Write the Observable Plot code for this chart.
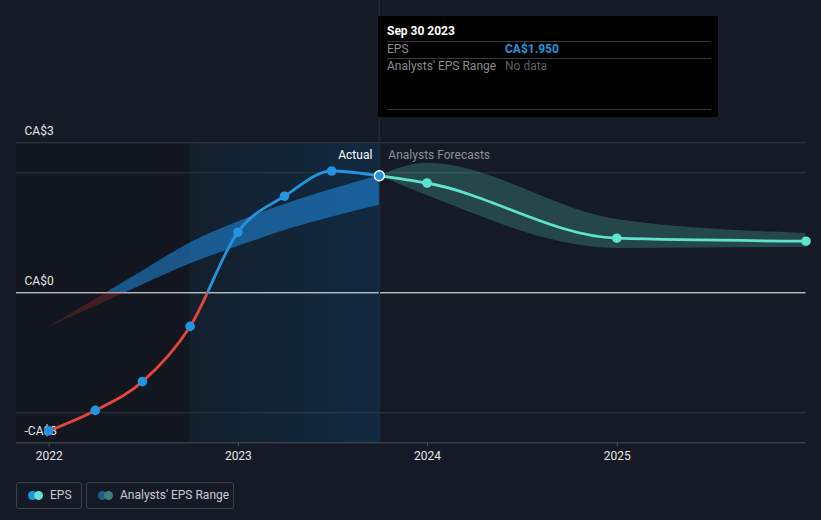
<!DOCTYPE html>
<html><head><meta charset="utf-8">
<script src="https://cdn.jsdelivr.net/npm/d3@7"></script>
<script src="https://cdn.jsdelivr.net/npm/@observablehq/plot@0.6"></script>
<style>
html,body{margin:0;padding:0;background:#151b26;}
#wrap{position:relative;width:821px;height:520px;overflow:hidden;font-family:Roboto,"Noto Sans",sans-serif;background:#151b26;}
#chart{position:absolute;left:0;top:0;}
.tip{position:absolute;left:378px;top:16px;width:340px;height:101px;background:#000;}
.tip div{position:absolute;font-size:12px;line-height:14px;white-space:nowrap;}
.tip .ln{height:1px;background:#3a3a3a;left:9px;width:324px;}
.leg{position:absolute;top:482px;height:25px;border:1px solid #3b404a;border-radius:3px;box-sizing:content-box;}
.leg span.c{position:absolute;top:8px;width:9px;height:9px;border-radius:50%;}
.leg span.t{position:absolute;top:5px;font-size:12px;line-height:14px;color:#c8ccd3;white-space:nowrap;}
</style></head>
<body>
<div id="wrap">
  <div id="chart"></div>
  <div class="tip">
    <div style="left:9px;top:8px;color:#fff;font-weight:700;">Sep 30 2023</div>
    <div class="ln" style="top:25px;"></div>
    <div style="left:9px;top:26px;color:#8c8c8c;">EPS</div>
    <div style="left:127px;top:26px;color:#2394df;font-weight:700;">CA$1.950</div>
    <div class="ln" style="top:42px;"></div>
    <div style="left:9px;top:43px;color:#8c8c8c;">Analysts' EPS Range</div>
    <div style="left:127px;top:43px;color:#5f5f5f;">No data</div>
    <div class="ln" style="top:93px;"></div>
  </div>
  <div class="leg" style="left:16px;width:64px;">
    <span class="c" style="left:11px;background:#2394df;"></span>
    <span class="c" style="left:17px;background:#5fe3cc;"></span>
    <span class="t" style="left:33px;">EPS</span>
  </div>
  <div class="leg" style="left:86px;width:146px;">
    <span class="c" style="left:11px;background:#215a8a;"></span>
    <span class="c" style="left:17px;background:#3e7f7a;"></span>
    <span class="t" style="left:33px;">Analysts' EPS Range</span>
  </div>
</div>
<script>
// ---- data ----
const actualDates = ["2021-12-31","2022-03-31","2022-06-30","2022-09-30","2022-12-31","2023-03-31","2023-06-30","2023-09-30"];
const actualEPS   = [-2.30, -1.96, -1.48, -0.56, 1.01, 1.61, 2.03, 1.95];
const pastBandLow  = [-0.57, -0.23, 0.13, 0.48, 0.77, 1.04, 1.26, 1.46];
const pastBandHigh = [-0.57, -0.11, 0.36, 0.83, 1.18, 1.47, 1.72, 1.95];
const forecastDates = ["2023-09-30","2023-12-31","2024-12-31","2025-12-31"];
const forecastEPS   = [1.95, 1.83, 0.91, 0.86];
const forecastLow   = [1.95, 1.62, 0.74, 0.76];
const forecastHigh  = [1.95, 2.16, 1.22, 0.99];
const yTickValues = [2.5, 0, -2.5];
const yTickLabels = ["CA$3", "CA$0", "-CA$3"];
const gridValues = [2.5, 2.0, -2.0];
const xTickYears = [2022, 2023, 2024, 2025];
const tooltipDate = "2023-09-30";
const pastWindowStart = "2022-09-30";

const parse = d3.utcParse("%Y-%m-%d");
const actual = actualDates.map((d, i) => ({date: parse(d), eps: actualEPS[i], lo: pastBandLow[i], hi: pastBandHigh[i]}));
const forecast = forecastDates.map((d, i) => ({date: parse(d), eps: forecastEPS[i], lo: forecastLow[i], hi: forecastHigh[i]}));
const xDomain = [parse("2021-10-30"), parse("2025-12-31")];
const yDomain = [-2.5, 2.5];
const cut = parse(tooltipDate);
const winStart = parse(pastWindowStart);
const yTicks = yTickValues.map((v, i) => ({v, label: yTickLabels[i]}));
const xTicks = xTickYears.map(y => new Date(Date.UTC(y, 0, 1)));

const defsMark = (index, scales, values, dims) => {
  const y0 = scales.y(0);
  const t = y0 / dims.height;
  const defs = d3.create("svg:defs");
  const g1 = defs.append("linearGradient").attr("id", "epsGrad").attr("gradientUnits", "userSpaceOnUse")
    .attr("x1", 0).attr("x2", 0).attr("y1", 0).attr("y2", dims.height);
  g1.append("stop").attr("offset", t).attr("stop-color", "#2394df");
  g1.append("stop").attr("offset", t).attr("stop-color", "#e5453d");
  const g2 = defs.append("linearGradient").attr("id", "bandGrad").attr("gradientUnits", "userSpaceOnUse")
    .attr("x1", 0).attr("x2", 0).attr("y1", 0).attr("y2", dims.height);
  g2.append("stop").attr("offset", t).attr("stop-color", "#2196f3").attr("stop-opacity", 0.5);
  g2.append("stop").attr("offset", t).attr("stop-color", "#e53935").attr("stop-opacity", 0.22);
  const g3 = defs.append("linearGradient").attr("id", "winGrad").attr("x1", 0).attr("x2", 1).attr("y1", 0).attr("y2", 0);
  g3.append("stop").attr("offset", 0).attr("stop-color", "#131f2c");
  g3.append("stop").attr("offset", 1).attr("stop-color", "#112a41");
  return defs.node();
};

const plot = Plot.plot({
  width: 821,
  height: 470,
  marginLeft: 16,
  marginRight: 15.5,
  marginTop: 142.3,
  marginBottom: 27.7,
  x: {type: "utc", domain: xDomain, axis: null},
  y: {domain: yDomain, axis: null},
  style: {background: "transparent", fontFamily: "Roboto, 'Noto Sans', sans-serif", fontSize: "12px", overflow: "visible"},
  marks: [
    defsMark,
    Plot.rect([{a: xDomain[0], b: winStart}], {x1: "a", x2: "b", y1: -2.5, y2: 2.5, fill: "#12161e"}),
    Plot.rect([{a: winStart, b: cut}], {x1: "a", x2: "b", y1: -2.5, y2: 2.5, fill: "url(#winGrad)"}),
    Plot.ruleY(gridValues, {stroke: "#323844", strokeWidth: 1}),
    Plot.ruleY([0], {stroke: "#ffffff", strokeWidth: 1}),
    Plot.ruleY([-2.5], {stroke: "#4a505b", strokeWidth: 1}),
    Plot.ruleX([cut], {y1: -2.5, y2: 8, stroke: "#1f2b3b", strokeWidth: 1.5}),
    Plot.axisX(xTicks, {tickFormat: d3.utcFormat("%Y"), tickSize: 4, tickPadding: 5, stroke: "#4a505b", fill: "#e3e6ea", fontSize: 12, label: null}),
    Plot.text(yTicks, {y: "v", text: "label", frameAnchor: "left", textAnchor: "start", dx: 8, dy: -12, fill: "#e3e6ea", fontSize: 12}),
    Plot.areaY(actual, {x: "date", y1: "lo", y2: "hi", curve: "monotone-x", fill: "url(#bandGrad)"}),
    Plot.areaY(forecast, {x: "date", y1: "lo", y2: "hi", curve: "monotone-x", fill: "#5fe3cc", fillOpacity: 0.22}),
    Plot.line(forecast, {x: "date", y: "eps", curve: "monotone-x", stroke: "#5fe3cc", strokeWidth: 2.8}),
    Plot.line(actual, {x: "date", y: "eps", curve: "monotone-x", stroke: "url(#epsGrad)", strokeWidth: 2.8}),
    Plot.dot(forecast.slice(1), {x: "date", y: "eps", r: 4.8, fill: "#5fe3cc"}),
    Plot.dot(actual.slice(0, -1), {x: "date", y: "eps", r: 4.8, fill: "#2394df"}),
    Plot.dot(actual.slice(-1), {x: "date", y: "eps", r: 5, fill: "#2394df", stroke: "#ffffff", strokeWidth: 1.5}),
    Plot.text([{d: cut, t: "Actual"}], {x: "d", y: 2.3, text: "t", textAnchor: "end", dx: -7, fill: "#ffffff", fontSize: 12}),
    Plot.text([{d: cut, t: "Analysts Forecasts"}], {x: "d", y: 2.3, text: "t", textAnchor: "start", dx: 9, fill: "#8b9099", fontSize: 12})
  ]
});
document.getElementById("chart").appendChild(plot);
</script>
</body></html>
